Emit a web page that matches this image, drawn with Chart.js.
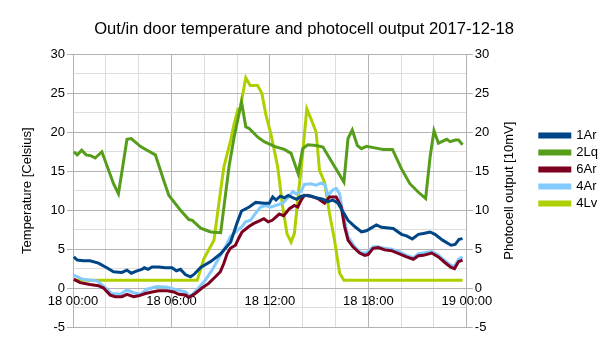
<!DOCTYPE html>
<html>
<head>
<meta charset="utf-8">
<script src="https://cdn.jsdelivr.net/npm/chart.js@4/dist/chart.umd.min.js"></script>
<style>
  html, body { margin: 0; padding: 0; background: #fff; }
  #wrap { width: 605px; height: 340px; }
</style>
</head>
<body>
<div id="wrap"><canvas id="myChart" width="605" height="340"></canvas></div>
<script>
// hours since 2017-12-18 00:00
var hourLabels = ['18 00:00', '18 06:00', '18 12:00', '18 18:00', '19 00:00'];
var rightTitle = 'Photocell output [10mV]';

var hours_1Ar = [0.05, 0.26, 0.63, 1.04, 1.55, 2.06, 2.47, 2.98, 3.29, 3.55, 3.9, 4.2, 4.35, 4.57, 4.82, 5.22, 5.63, 6.04, 6.3, 6.55, 6.86, 7.16, 7.37, 7.78, 8.39, 9.0, 9.61, 10.02, 10.27, 10.74, 11.14, 11.65, 11.96, 12.17, 12.37, 12.63, 12.88, 13.12, 13.39, 13.63, 13.9, 14.31, 14.82, 15.23, 15.53, 15.84, 16.15, 16.45, 16.76, 17.17, 17.58, 17.88, 18.49, 18.8, 19.51, 20.02, 20.33, 20.68, 21.05, 21.35, 21.76, 22.06, 22.52, 23.04, 23.29, 23.53, 23.74];
var temp_1Ar = [4.0, 3.6, 3.5, 3.5, 3.2, 2.6, 2.1, 2.0, 2.3, 1.9, 2.2, 2.4, 2.6, 2.4, 2.7, 2.7, 2.6, 2.6, 2.2, 2.4, 1.7, 1.45, 1.75, 2.65, 3.4, 4.4, 5.9, 8.5, 9.9, 10.4, 11.0, 10.9, 10.9, 11.7, 11.3, 11.8, 11.6, 11.9, 11.6, 11.4, 11.8, 11.9, 11.6, 11.4, 11.1, 11.3, 10.9, 9.8, 8.7, 7.9, 7.2, 7.35, 8.1, 7.8, 7.65, 6.9, 6.7, 6.3, 6.9, 7.0, 7.2, 6.9, 6.15, 5.5, 5.6, 6.25, 6.35];

var hours_2Lq = [0.05, 0.26, 0.53, 0.8, 1.08, 1.35, 1.76, 2.47, 2.77, 3.29, 3.55, 4.1, 4.51, 5.02, 5.53, 5.84, 6.55, 7.06, 7.27, 7.78, 8.39, 9.0, 9.51, 9.82, 10.27, 10.53, 10.74, 11.25, 11.65, 12.27, 12.88, 13.29, 13.72, 14.0, 14.31, 14.82, 15.23, 15.94, 16.51, 16.76, 17.02, 17.33, 17.58, 17.88, 18.39, 18.9, 19.47, 20.02, 20.53, 21.05, 21.49, 21.76, 22.0, 22.27, 22.78, 22.98, 23.29, 23.5, 23.74];
var temp_2Lq = [17.5, 17.1, 17.7, 17.1, 17.0, 16.7, 17.5, 13.4, 12.1, 19.1, 19.2, 18.2, 17.7, 17.1, 13.8, 11.9, 10.0, 8.8, 8.7, 7.7, 7.2, 7.1, 15.6, 19.4, 23.9, 20.7, 20.5, 19.4, 18.8, 18.2, 17.8, 17.3, 14.7, 17.9, 18.4, 18.3, 18.1, 15.6, 13.6, 19.2, 20.3, 18.3, 17.9, 18.2, 18.0, 17.8, 17.8, 15.3, 13.4, 12.3, 11.5, 16.8, 20.2, 18.6, 19.1, 18.8, 19.0, 19.0, 18.4];

var hours_6Ar = [0.05, 0.43, 1.04, 1.55, 1.86, 2.27, 2.57, 2.98, 3.29, 3.69, 4.0, 4.41, 4.82, 5.22, 5.74, 6.14, 6.45, 6.86, 7.06, 7.45, 7.86, 8.27, 8.68, 8.98, 9.19, 9.39, 9.59, 9.9, 10.1, 10.3, 10.72, 11.02, 11.33, 11.63, 11.9, 12.14, 12.57, 12.84, 13.19, 13.49, 13.7, 13.9, 14.1, 14.51, 14.92, 15.33, 15.63, 16.04, 16.35, 16.55, 16.76, 17.06, 17.47, 17.78, 17.98, 18.29, 18.6, 19.0, 19.41, 19.82, 20.33, 20.74, 21.05, 21.35, 21.86, 22.27, 22.68, 23.04, 23.25, 23.5, 23.74];
var temp_6Ar = [1.15, 0.7, 0.45, 0.3, 0.0, -0.9, -1.1, -1.1, -0.8, -1.1, -1.0, -0.7, -0.5, -0.35, -0.35, -0.5, -0.8, -0.9, -1.2, -0.7, 0.0, 0.6, 1.45, 2.1, 3.15, 4.4, 5.1, 5.5, 6.4, 7.2, 7.9, 8.3, 8.6, 8.9, 8.5, 8.7, 9.5, 9.3, 10.2, 10.6, 10.4, 11.3, 11.9, 11.8, 11.5, 10.9, 11.7, 11.7, 10.4, 7.9, 6.15, 5.3, 4.5, 4.2, 4.3, 5.1, 5.2, 4.9, 4.8, 4.45, 4.0, 3.7, 4.15, 4.2, 4.5, 4.0, 3.25, 2.65, 2.5, 3.4, 3.6];

var hours_4Ar = [0.05, 0.63, 1.45, 1.86, 2.37, 2.88, 3.29, 3.69, 4.1, 4.51, 5.12, 5.74, 6.35, 6.86, 7.16, 7.65, 8.06, 8.47, 8.88, 9.29, 9.59, 9.9, 10.3, 10.51, 10.82, 11.12, 11.43, 11.74, 12.04, 12.78, 13.19, 13.39, 13.6, 13.9, 14.1, 14.51, 14.82, 15.12, 15.37, 15.53, 15.84, 16.04, 16.25, 16.45, 16.76, 17.17, 17.58, 17.88, 18.29, 18.6, 19.0, 19.41, 19.82, 20.33, 20.74, 21.05, 21.35, 21.86, 22.27, 22.68, 23.04, 23.25, 23.5, 23.74];
var temp_4Ar = [1.65, 1.1, 0.95, 0.25, -0.7, -0.8, -0.25, -0.6, -0.8, -0.15, 0.2, 0.1, -0.25, -0.5, -1.1, 0.0, 1.0, 2.3, 3.8, 5.3, 6.6, 7.2, 7.9, 8.5, 8.7, 9.6, 10.4, 10.6, 10.4, 10.9, 11.8, 12.4, 12.1, 12.4, 13.3, 13.4, 13.2, 13.5, 13.2, 11.9, 12.6, 12.8, 12.1, 9.6, 6.6, 5.3, 4.5, 4.5, 5.3, 5.3, 5.1, 5.0, 4.7, 4.2, 3.9, 4.4, 4.5, 4.7, 4.2, 3.5, 2.9, 2.8, 3.7, 4.0];

var hours_4Lv = [0.05, 7.57, 7.98, 8.59, 9.0, 9.2, 9.61, 9.82, 10.06, 10.18, 10.53, 10.8, 11.25, 11.51, 11.76, 12.06, 12.47, 12.78, 13.04, 13.29, 13.49, 13.76, 13.9, 14.25, 14.51, 14.82, 15.02, 15.33, 15.63, 15.94, 16.25, 16.51, 23.74];
var photo_4Lv = [1.0, 1.0, 3.8, 6.15, 12.6, 15.6, 19.0, 21.1, 23.0, 23.0, 27.0, 26.0, 26.0, 25.0, 22.2, 19.8, 15.6, 10.4, 7.0, 5.9, 7.0, 12.6, 15.1, 23.0, 21.7, 20.0, 15.1, 13.6, 9.6, 6.15, 1.9, 1.0, 1.0];

function points(xs, ys) {
  return xs.map(function(h, i) { return {x: h, y: ys[i]}; });
}

function series(label, xs, ys, color, axis) {
  return {
    label: label,
    data: points(xs, ys),
    borderColor: color,
    backgroundColor: color,
    borderWidth: 3,
    pointRadius: 0,
    tension: 0,
    fill: false,
    yAxisID: axis
  };
}

// right axis title reads bottom-to-top like the left one
var rightTitlePlugin = {
  id: 'rightTitle',
  afterDraw: function(chart) {
    var s = chart.scales.y1;
    var c = chart.ctx;
    c.save();
    c.translate(s.left + 43, (s.top + s.bottom) / 2);
    c.rotate(-Math.PI / 2);
    c.textAlign = 'center';
    c.textBaseline = 'middle';
    c.fillStyle = '#000';
    c.font = '13px "Liberation Sans", Arial, sans-serif';
    c.fillText(rightTitle, 0, 0);
    c.restore();
  }
};

window.onload = function() {
  Chart.defaults.font.family = '"Liberation Sans", Arial, sans-serif';
  Chart.defaults.color = '#000';
  Chart.defaults.animation = false;

  var majorGrid = '#b3b3b3';
  var minorGrid = '#dddddd';

  var ctx = document.getElementById('myChart').getContext('2d');
  window.myLine = new Chart(ctx, {
    type: 'line',
    data: {
      datasets: [
        series('1Ar', hours_1Ar, temp_1Ar, '#004586', 'y'),
        series('2Lq', hours_2Lq, temp_2Lq, '#579d1c', 'y'),
        series('6Ar', hours_6Ar, temp_6Ar, '#7e0021', 'y'),
        series('4Ar', hours_4Ar, temp_4Ar, '#83caff', 'y'),
        series('4Lv', hours_4Lv, photo_4Lv, '#aecf00', 'y1')
      ]
    },
    plugins: [rightTitlePlugin],
    options: {
      responsive: false,
      layout: { padding: { left: 0, right: -3, top: 0, bottom: 13 } },
      plugins: {
        title: {
          display: true,
          text: 'Out/in door temperature and photocell output 2017-12-18',
          font: { size: 16.6, weight: 'normal' },
          color: '#000',
          padding: { top: 19, bottom: 15.5 }
        },
        legend: {
          position: 'right',
          title: { display: true, text: ' ', padding: 0, font: { size: 10 } },
          labels: { boxWidth: 30, boxHeight: 3, padding: 4, font: { size: 13 } }
        },
        tooltip: { enabled: false }
      },
      scales: {
        x: {
          type: 'linear',
          min: 0,
          max: 24,
          position: { y: 0 },
          afterFit: function(scale) { scale.height = 0; },
          border: { color: majorGrid },
          grid: {
            color: function(c) { return c.tick.value % 6 === 0 ? majorGrid : minorGrid; },
            tickColor: 'rgba(0,0,0,0)',
            tickLength: 5
          },
          ticks: {
            stepSize: 2,
            autoSkip: false,
            maxRotation: 0,
            padding: 1,
            font: { size: 13 },
            callback: function(v) { return v % 6 === 0 ? hourLabels[v / 6] : ''; }
          }
        },
        y: {
          min: -5,
          max: 30,
          afterFit: function(scale) { scale.width = 73; },
          border: { color: majorGrid },
          title: { display: true, text: 'Temperature [Celsius]', font: { size: 13 }, padding: { top: 20, bottom: 4 } },
          grid: {
            color: function(c) { return c.tick.value % 5 === 0 ? majorGrid : minorGrid; },
            tickColor: function(c) { return c.tick.value % 5 === 0 ? majorGrid : 'rgba(0,0,0,0)'; },
            tickLength: 6
          },
          ticks: {
            stepSize: 2.5,
            padding: 2,
            font: { size: 13 },
            callback: function(v) { return v % 5 === 0 ? v : ''; }
          }
        },
        y1: {
          position: 'right',
          min: -5,
          max: 30,
          afterFit: function(scale) { scale.width = 69; },
          border: { color: majorGrid },
          grid: {
            drawOnChartArea: false,
            color: function(c) { return c.tick.value % 5 === 0 ? majorGrid : 'rgba(0,0,0,0)'; },
            tickLength: 6
          },
          ticks: {
            stepSize: 2.5,
            padding: 2,
            font: { size: 13 },
            callback: function(v) { return v % 5 === 0 ? v : ''; }
          }
        }
      }
    }
  });
};
</script>
</body>
</html>
